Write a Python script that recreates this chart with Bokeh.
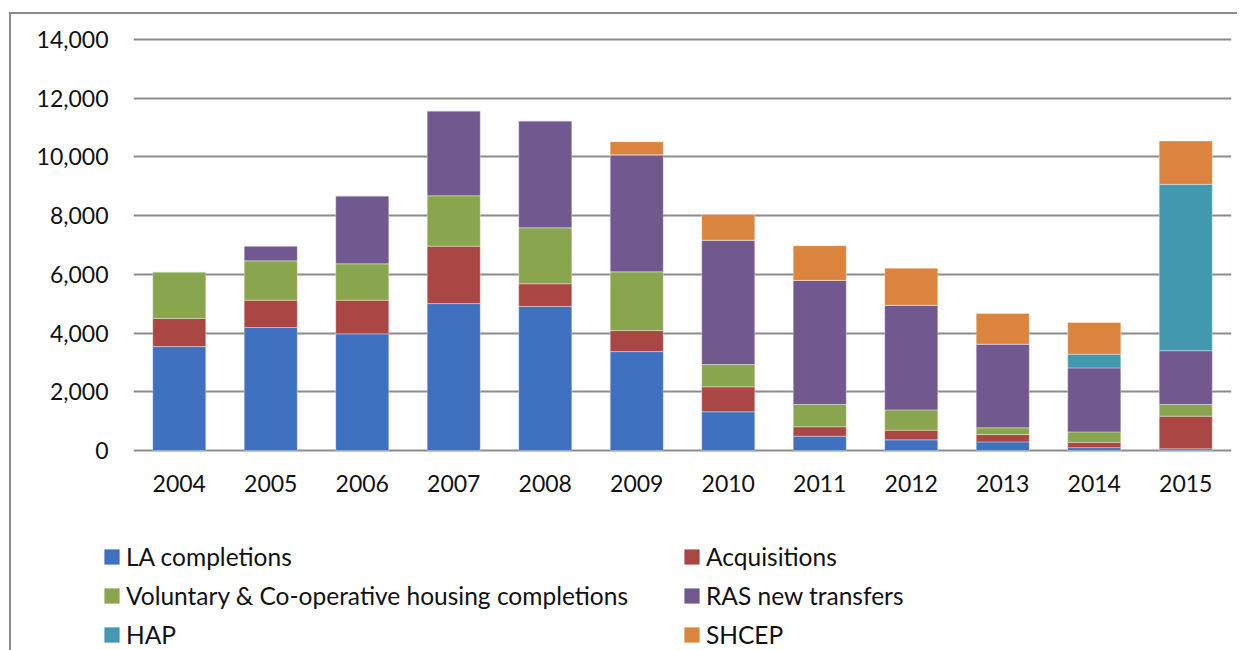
from bokeh.plotting import figure
from bokeh.layouts import column
from bokeh.models import Range1d, FactorRange, NumeralTickFormatter, Legend, LegendItem, ColumnDataSource
from bokeh.embed import file_html
from bokeh.resources import INLINE

years = ["2004", "2005", "2006", "2007", "2008", "2009", "2010", "2011", "2012", "2013", "2014", "2015"]
la_completions = [3540, 4190, 3975, 5005, 4905, 3370, 1320, 490, 365, 295, 100, 60]
acquisitions = [960, 930, 1145, 1955, 775, 715, 850, 320, 330, 250, 180, 1110]
voluntary = [1590, 1340, 1240, 1715, 1905, 2000, 760, 760, 690, 230, 355, 400]
ras_transfers = [0, 510, 2315, 2895, 3645, 3985, 4235, 4225, 3565, 2850, 2180, 1830]
hap = [0, 0, 0, 0, 0, 0, 0, 0, 0, 0, 465, 5665]
shcep = [0, 0, 0, 0, 0, 445, 875, 1180, 1260, 1045, 1080, 1480]

series_names = ["LA completions", "Acquisitions", "Voluntary & Co-operative housing completions",
                "RAS new transfers", "HAP", "SHCEP"]
colors = ["#4070C0", "#AA4644", "#89A54E", "#71588F", "#4198AF", "#DB843D"]
y_ticks = [0, 2000, 4000, 6000, 8000, 10000, 12000, 14000]

keys = ["la", "acq", "vol", "ras", "hap", "shcep"]
source = ColumnDataSource(dict(year=years, la=la_completions, acq=acquisitions, vol=voluntary,
                               ras=ras_transfers, hap=hap, shcep=shcep))

p = figure(x_range=FactorRange(*years), y_range=Range1d(-100, 14100),
           width=1226, height=506, output_backend="svg", toolbar_location=None,
           min_border_left=122, min_border_right=6, min_border_top=22, min_border_bottom=67)
p.frame_align = False

renderers = p.vbar_stack(keys, x="year", width=0.58, source=source,
                         fill_color=colors, line_color="white", line_alpha=0.35, line_width=1)

p.outline_line_color = None
p.xgrid.grid_line_color = None
p.ygrid.grid_line_color = "#8c8c8c"
p.ygrid.grid_line_width = 2
p.yaxis.ticker = y_ticks
p.yaxis.formatter = NumeralTickFormatter(format="0,0")
for ax in (p.xaxis[0], p.yaxis[0]):
    ax.axis_line_color = None
    ax.major_tick_line_color = None
    ax.minor_tick_line_color = None
    ax.major_tick_out = 0
    ax.major_tick_in = 0
    ax.major_label_text_font = "Lato"
    ax.major_label_text_font_size = "23px"
    ax.major_label_text_color = "#111111"
p.yaxis.major_label_standoff = 25
p.xaxis.major_label_standoff = 21

# legend panel (separate plot so the legend is not clipped by the chart frame)
lf = figure(width=1226, height=130, x_range=Range1d(0, 1), y_range=Range1d(0, 1),
            output_backend="svg", toolbar_location=None, x_axis_type=None, y_axis_type=None,
            min_border=0)
lf.frame_align = False
lf.outline_line_color = None
lf.xgrid.grid_line_color = None
lf.ygrid.grid_line_color = None
# legend swatches: one hidden bar per series, placed outside the visible range
dummies = [lf.vbar(x=[-5], top=[-5], width=0.5, fill_color=c, line_color=None) for c in colors]

def make_legend(idx, x):
    items = [LegendItem(label=series_names[i], renderers=[dummies[i]]) for i in idx]
    lg = Legend(items=items, location=(x, 1), orientation="vertical",
                glyph_width=19, glyph_height=19, label_standoff=5,
                label_text_font="Lato", label_text_font_size="24.5px", label_text_color="#111111",
                label_height=30, spacing=9, padding=0, margin=0,
                border_line_color=None, background_fill_alpha=0)
    lf.add_layout(lg, "center")

make_legend([0, 2, 4], 91)
make_legend([1, 3, 5], 671)

layout = column(p, lf, spacing=0)
layout.styles = {"border-left": "2px solid #8c8c8c", "border-top": "2px solid #8c8c8c",
                 "margin-left": "9px", "margin-top": "12px"}

open("out.html", "w").write(file_html(layout, INLINE))
